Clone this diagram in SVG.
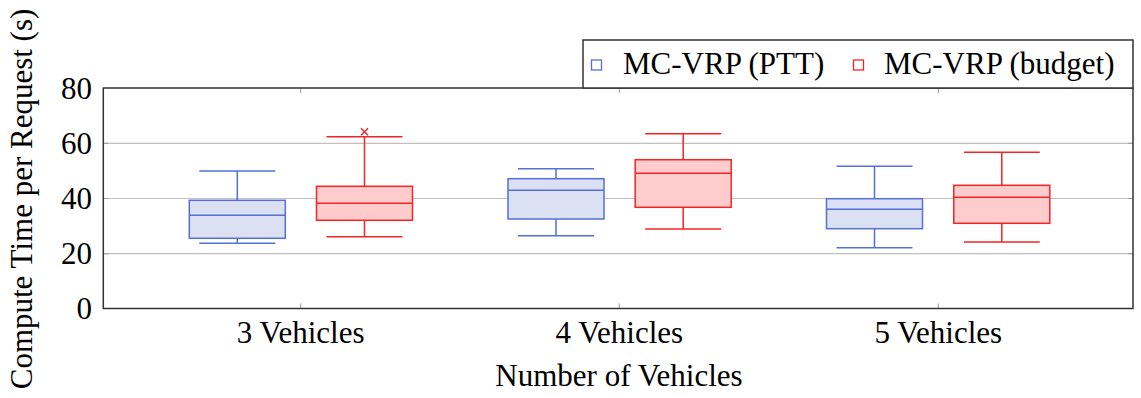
<svg xmlns="http://www.w3.org/2000/svg" width="1141" height="398" viewBox="0 0 1141 398">
<style>
.t{font-family:'Liberation Serif','DejaVu Serif',serif;font-size:31px;fill:#000}
.grid{stroke:#c0c0c0;stroke-width:1.2;fill:none}
.tick{stroke:#9a9a9a;stroke-width:1;fill:none}
.frame{stroke:#333;stroke-width:1.5;fill:none}
.bb{stroke:#5470d6;stroke-width:1.5;fill:#dbe0f3}
.bl{stroke:#5470d6;stroke-width:1.5;fill:none}
.rb{stroke:#f52525;stroke-width:1.5;fill:#fecccc}
.rl{stroke:#f52525;stroke-width:1.5;fill:none}
</style>
<rect width="1141" height="398" fill="#fff"/>
<g id="axes">
<line class="grid" x1="103.3" y1="143.3" x2="1133" y2="143.3"/>
<line class="grid" x1="103.3" y1="198.5" x2="1133" y2="198.5"/>
<line class="grid" x1="103.3" y1="253.7" x2="1133" y2="253.7"/>
<path class="tick" d="M300.7 308.5v-5M619.3 308.5v-5M938.3 308.5v-5M300.7 88v5M619.3 88v5M938.3 88v5"/>
<path class="tick" d="M103.3 143.3h5M103.3 198.5h5M103.3 253.7h5M1133 143.3h-5M1133 198.5h-5M1133 253.7h-5"/>
<rect class="frame" x="103.3" y="88" width="1029.7" height="220.5"/>
<g class="t" font-family="Liberation Serif, DejaVu Serif, serif" text-anchor="end">
<text x="92" y="99">80</text>
<text x="92" y="154">60</text>
<text x="92" y="209">40</text>
<text x="92" y="264">20</text>
<text x="92" y="319">0</text>
</g>
<g class="t" font-family="Liberation Serif, DejaVu Serif, serif" text-anchor="middle">
<text x="300.7" y="343">3 Vehicles</text>
<text x="619.3" y="343">4 Vehicles</text>
<text x="938.3" y="343">5 Vehicles</text>
<text x="619" y="386">Number of Vehicles</text>
<text transform="translate(32 199) rotate(-90)">Compute Time per Request (s)</text>
</g>
</g>
<g id="connectors">
<path class="bl" d="M237.3 171V200.3M237.3 238.3V243.3M199.3 171h76M199.3 243.3h76"/>
<path class="rl" d="M364.5 136.7V186.3M364.5 220.3V236.7M326.5 136.7h76M326.5 236.7h76"/>
<path class="bl" d="M556 168.7V178.7M556 219V235.7M518 168.7h76M518 235.7h76"/>
<path class="rl" d="M683.2 133.7V159.7M683.2 207.3V229M645.2 133.7h76M645.2 229h76"/>
<path class="bl" d="M874.5 166.3V198.7M874.5 228.7V247.7M836.5 166.3h76M836.5 247.7h76"/>
<path class="rl" d="M1001.8 152.3V185.3M1001.8 223.3V242M963.8 152.3h76M963.8 242h76"/>
</g>
<g id="box-3-ptt">
<rect class="bb" x="189.3" y="200.3" width="96" height="38"/>
<line class="bl" x1="189.3" y1="215.3" x2="285.3" y2="215.3"/>
</g>
<g id="box-3-budget">
<rect class="rb" x="316.5" y="186.3" width="96" height="34"/>
<line class="rl" x1="316.5" y1="203.3" x2="412.5" y2="203.3"/>
<path class="rl" d="M361 128.2l7 7M368 128.2l-7 7"/>
</g>
<g id="box-4-ptt">
<rect class="bb" x="508" y="178.7" width="96" height="40.3"/>
<line class="bl" x1="508" y1="190.3" x2="604" y2="190.3"/>
</g>
<g id="box-4-budget">
<rect class="rb" x="635.2" y="159.7" width="96" height="47.6"/>
<line class="rl" x1="635.2" y1="173.3" x2="731.2" y2="173.3"/>
</g>
<g id="box-5-ptt">
<rect class="bb" x="826.5" y="198.7" width="96" height="30"/>
<line class="bl" x1="826.5" y1="209.3" x2="922.5" y2="209.3"/>
</g>
<g id="box-5-budget">
<rect class="rb" x="953.8" y="185.3" width="96" height="38"/>
<line class="rl" x1="953.8" y1="197.3" x2="1049.8" y2="197.3"/>
</g>
<g id="legend">
<rect x="583" y="40" width="550" height="48" fill="#fff" stroke="#333" stroke-width="1.5"/>
<rect x="591.5" y="60" width="10" height="10" fill="none" stroke="#5470d6" stroke-width="1.3"/>
<text class="t" font-family="Liberation Serif, DejaVu Serif, serif" x="623" y="74">MC-VRP (PTT)</text>
<rect x="853.5" y="60" width="10" height="10" fill="none" stroke="#f52525" stroke-width="1.3"/>
<text class="t" font-family="Liberation Serif, DejaVu Serif, serif" x="884" y="74">MC-VRP (budget)</text>
</g>
</svg>
